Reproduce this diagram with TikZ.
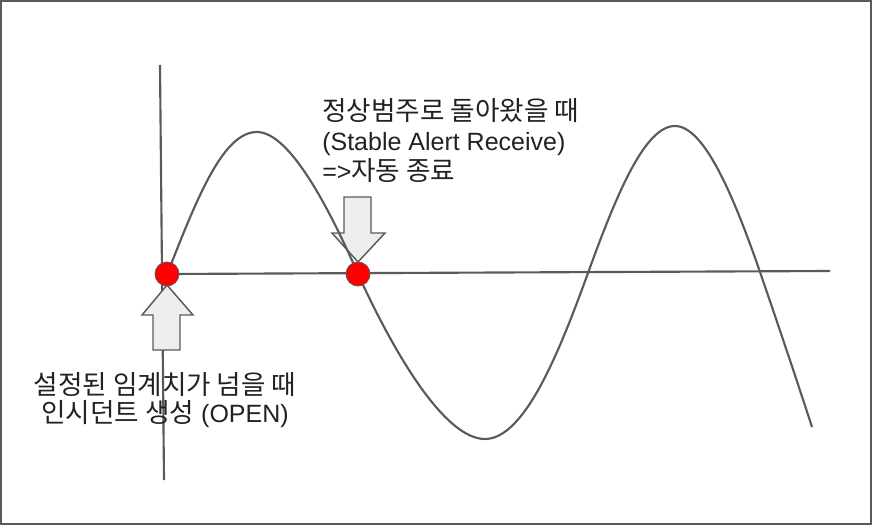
\documentclass[tikz,border=0pt]{standalone}
\usepackage{fontspec}
\setmainfont{Liberation Sans}
\newfontfamily\kr[Scale=1.065]{Noto Sans CJK KR}
\usetikzlibrary{positioning}
\definecolor{linegray}{HTML}{5A5A5A}
\definecolor{arrowfill}{HTML}{EEEEEE}
\definecolor{textgray}{HTML}{222222}

\begin{document}
\begin{tikzpicture}[x=0.75pt,y=-0.75pt,
    axis/.style={draw=linegray,line width=1.6pt},
    wave/.style={draw=linegray,line width=1.6pt},
    reddot/.style={circle,fill=red,draw=linegray,line width=0.6pt,minimum size=18pt,inner sep=0pt},
    blockarrow/.style={fill=arrowfill,draw=linegray,line width=1.1pt,line join=miter},
    note/.style={font=\fontsize{18.75}{22.5}\selectfont,text=textgray,inner sep=0pt}]
  \useasboundingbox (0,0) rectangle (872,525);
  \draw[line width=1.5pt,draw=linegray] (1,1) rectangle (871,524);

  \coordinate (ytop) at (160,65);
  \coordinate (ybot) at (164,480);
  \coordinate (open) at (167,274);
  \coordinate (close) at (358,274);
  \coordinate (xend) at (830,271);

  % axes
  \draw[axis] (ytop) -- (ybot);
  \draw[axis] (open) -- (xend);

  % arrows
  \draw[blockarrow] (167,285) -- (193,315) -- (180,315) -- (180,350)
    -- (153,350) -- (153,315) -- (142,315) -- cycle;
  \draw[blockarrow] (358,262) -- (385,233) -- (371,233) -- (371,197)
    -- (344,197) -- (344,233) -- (332,233) -- cycle;

  % wave
  \draw[wave] (170,267) .. controls (200,190) and (225,132) .. (257,132)
    .. controls (290,132) and (330,210) .. (close)
    .. controls (395,355) and (445,439) .. (485,439)
    .. controls (525,439) and (560,350) .. (588,273)
    .. controls (617,193) and (645,126) .. (675,126)
    .. controls (705,126) and (735,200) .. (760,272)
    .. controls (780,330) and (800,390) .. (812,427);

  \node[reddot] (opendot) at (open) {};
  \node[reddot] (closedot) at (close) {};

  \node[note,anchor=base west,align=left] (closetext) at (322,180)
    {{\kr 정상범주로 돌아왔을 때}\\(Stable Alert Receive)\\=>{\kr 자동 종료}};
  \node[note,anchor=base,align=center] (opentext) at (165,422)
    {{\kr 설정된 임계치가 넘을 때}\\[-1.5pt]{\kr 인시던트 생성} (OPEN)};
\end{tikzpicture}
\end{document}
